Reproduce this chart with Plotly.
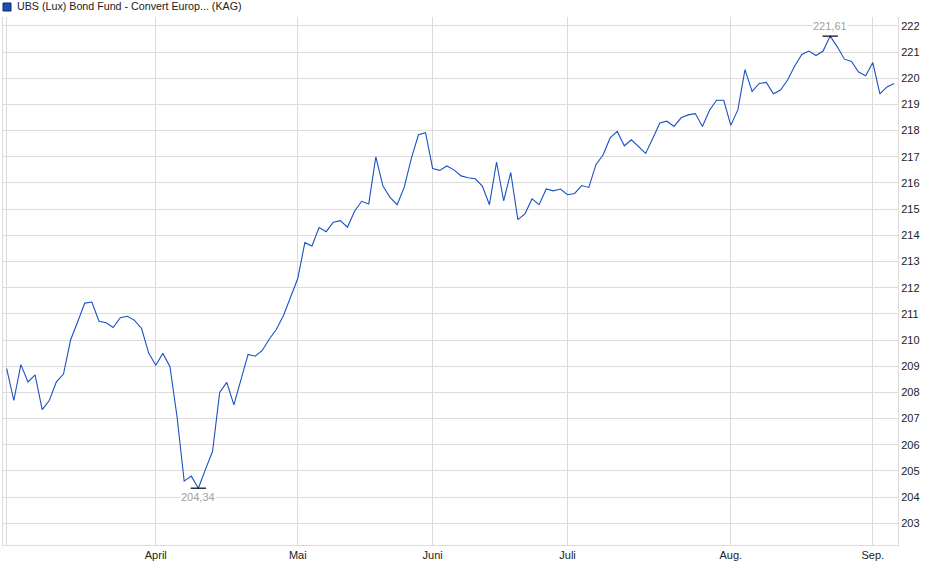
import pandas as pd
import plotly.graph_objects as go

# trading days (Luxembourg calendar), 3 Mar - 4 Sep 2025
holidays = ["2025-04-18", "2025-04-21", "2025-05-01", "2025-05-09",
            "2025-05-29", "2025-06-09", "2025-06-23", "2025-08-15"]
days = pd.bdate_range("2025-03-03", "2025-09-04", freq="C", holidays=holidays)
dates = [d.strftime("%Y-%m-%d") for d in days]

prices = [
    208.91, 207.69, 209.06, 208.40, 208.67, 207.34, 207.69, 208.40, 208.70, 210.00,
    210.70, 211.41, 211.45, 210.72, 210.66, 210.48, 210.85, 210.91, 210.75, 210.44,
    209.50, 209.04, 209.49, 208.98, 207.06, 204.61, 204.80, 204.34, 205.06, 205.75,
    208.00, 208.38, 207.52, 208.50, 209.45, 209.38, 209.60, 210.04, 210.41, 210.95,
    211.66, 212.35, 213.72, 213.59, 214.30, 214.14, 214.50, 214.56, 214.31, 214.92,
    215.30, 215.20, 217.00, 215.88, 215.45, 215.17, 215.84, 216.94, 217.84, 217.92,
    216.55, 216.48, 216.65, 216.50, 216.27, 216.20, 216.16, 215.88, 215.17, 216.80,
    215.32, 216.40, 214.60, 214.82, 215.39, 215.17, 215.77, 215.70, 215.77, 215.55,
    215.60, 215.90, 215.83, 216.70, 217.07, 217.72, 217.97, 217.42, 217.65, 217.39,
    217.13, 217.70, 218.29, 218.36, 218.16, 218.49, 218.60, 218.65, 218.16, 218.78,
    219.16, 219.16, 218.20, 218.80, 220.33, 219.50, 219.80, 219.84, 219.41, 219.55,
    219.93, 220.47, 220.91, 221.04, 220.87, 221.04, 221.61, 221.20, 220.73, 220.64,
    220.24, 220.10, 220.60, 219.40, 219.67, 219.80,
]

month_ticks = ["2025-03-03", "2025-04-01", "2025-05-02", "2025-06-02",
               "2025-07-01", "2025-08-01", "2025-09-01"]
month_labels = ["", "April", "Mai", "Juni", "Juli", "Aug.", "Sep."]

name = "UBS (Lux) Bond Fund - Convert Europ... (KAG)"
font = "Liberation Sans, Arial, sans-serif"

fig = go.Figure()
fig.add_trace(go.Scatter(x=dates, y=prices, mode="lines",
                         line=dict(color="#1a52c2", width=1.1),
                         showlegend=False, hoverinfo="x+y"))

i_min = prices.index(min(prices))
i_max = prices.index(max(prices))
fig.add_trace(go.Scatter(x=[dates[i_min], dates[i_max]],
                         y=[prices[i_min], prices[i_max]], mode="markers",
                         marker=dict(symbol="line-ew", size=11,
                                     line=dict(color="black", width=1.2)),
                         showlegend=False, hoverinfo="skip"))

def fmt(v):
    return f"{v:.2f}".replace(".", ",")

fig.add_annotation(x=dates[i_max], y=prices[i_max], text=fmt(prices[i_max]),
                   showarrow=False, yshift=10, bgcolor="white",
                   font=dict(color="#a0a0a0", size=11, family=font), borderpad=0)
fig.add_annotation(x=dates[i_min], y=prices[i_min], text=fmt(prices[i_min]),
                   showarrow=False, yshift=-9, bgcolor="white",
                   font=dict(color="#a0a0a0", size=11, family=font), borderpad=0)

# legend-like header
fig.add_shape(type="rect", xref="paper", yref="paper",
              xsizemode="pixel", ysizemode="pixel", xanchor=0, yanchor=1,
              x0=0, x1=8, y0=6, y1=14,
              fillcolor="#1c4fb5", line=dict(color="#0d2a6b", width=1))
fig.add_annotation(xref="paper", yref="paper", x=0, y=1, xshift=12, yshift=11,
                   xanchor="left", yanchor="middle", showarrow=False,
                   text=name, font=dict(color="#222222", size=10.7, family=font))

fig.update_layout(
    width=940, height=579,
    margin=dict(l=3, r=42, t=17, b=34),
    paper_bgcolor="white", plot_bgcolor="white",
    font=dict(family=font, size=11, color="#222222"),
    xaxis=dict(type="category", range=[-0.52, 125.55],
               tickmode="array", tickvals=month_ticks, ticktext=month_labels,
               showgrid=True, gridcolor="#dcdcdc", gridwidth=1,
               showline=True, linecolor="#dcdcdc", linewidth=1,
               ticks="", tickfont=dict(size=11, color="#222222")),
    yaxis=dict(side="right", range=[202.17, 222.34], dtick=1,
               showgrid=True, gridcolor="#dcdcdc", gridwidth=1,
               showline=True, mirror=True, linecolor="#dcdcdc", linewidth=1,
               ticks="", zeroline=False,
               tickfont=dict(size=11, color="#222222")),
)

fig.write_html("out.html", config={"displayModeBar": False},
               post_script="document.body.style.margin='0';")
